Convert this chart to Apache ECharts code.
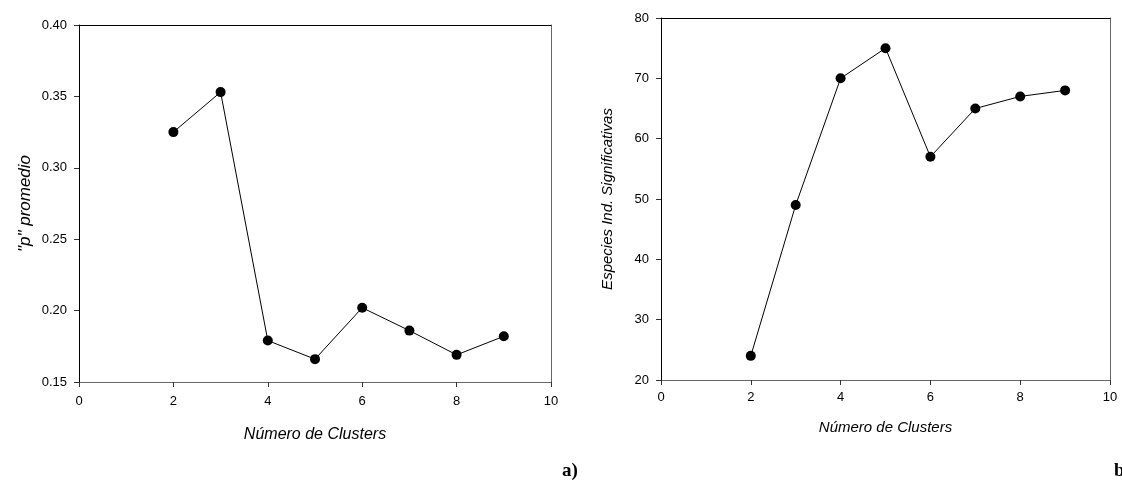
<!DOCTYPE html>
<html>
<head>
<meta charset="utf-8">
<script src="https://cdn.jsdelivr.net/npm/echarts@6/dist/echarts.min.js"></script>
<style>
  html, body { margin: 0; padding: 0; background: #fff; }
  #chart { width: 1122px; height: 484px; }
</style>
</head>
<body>
<div id="chart"></div>
<script>
// cluster counts shared by both panels
const clusters = [2, 3, 4, 5, 6, 7, 8, 9];
// panel a: mean p value
const pMean = [0.325, 0.353, 0.179, 0.166, 0.202, 0.186, 0.169, 0.182];
// panel b: significant indicator species
const especies = [24, 49, 70, 75, 57, 65, 67, 68];

const font = 'Liberation Sans, Arial, sans-serif';
const chart = echarts.init(document.getElementById('chart'));

let pairs = (xs, ys) => xs.map((x, i) => [x, ys[i]]);

let mainX = (gridIndex, labelMargin, nameGap, nameSize) => ({
    type: 'value', gridIndex: gridIndex, min: 0, max: 10, interval: 2,
    position: 'bottom',
    name: 'Número de Clusters', nameLocation: 'middle',
    nameGap: nameGap,
    nameTextStyle: { fontFamily: font, fontSize: nameSize, fontStyle: 'italic', color: '#000' },
    axisLine: { onZero: false, lineStyle: { color: '#666', width: 1 } },
    axisTick: { inside: false, length: 5, lineStyle: { color: '#333' } },
    axisLabel: { fontFamily: font, fontSize: 13, color: '#000', margin: labelMargin },
    splitLine: { show: false }
});

let frameX = (gridIndex) => ({
    type: 'value', gridIndex: gridIndex, min: 0, max: 10, position: 'top',
    axisLine: { show: true, onZero: false, lineStyle: { color: '#000', width: 1 } },
    axisTick: { show: false }, axisLabel: { show: false }, splitLine: { show: false }
});

let mainY = (gridIndex, min, max, interval, name, fmt, gap, nameSize) => ({
    type: 'value', gridIndex: gridIndex, min: min, max: max, interval: interval,
    position: 'left',
    name: name, nameLocation: 'middle', nameGap: gap,
    nameTextStyle: { fontFamily: font, fontSize: nameSize, fontStyle: 'italic', color: '#000' },
    axisLine: { show: true, onZero: false, lineStyle: { color: '#000', width: 1 } },
    axisTick: { show: true, inside: false, length: 5, lineStyle: { color: '#333' } },
    axisLabel: { fontFamily: font, fontSize: 13, color: '#000', margin: 12, formatter: fmt },
    splitLine: { show: false }
});

let frameY = (gridIndex, min, max) => ({
    type: 'value', gridIndex: gridIndex, min: min, max: max, position: 'right',
    axisLine: { show: true, onZero: false, lineStyle: { color: '#666', width: 1 } },
    axisTick: { show: false }, axisLabel: { show: false }, splitLine: { show: false }
});

let series = (idx, data) => ({
    type: 'line', xAxisIndex: idx * 2, yAxisIndex: idx * 2,
    data: data, symbol: 'circle', symbolSize: 10,
    lineStyle: { color: '#000', width: 1 },
    itemStyle: { color: '#000' },
    animation: false
});

let option = {
    backgroundColor: '#fff',
    animation: false,
    grid: [
        { left: 79, top: 25, width: 472, height: 357 },
        { left: 661, top: 18, width: 449, height: 362 }
    ],
    xAxis: [mainX(0, 13, 45, 16), frameX(0), mainX(1, 11, 40, 15), frameX(1)],
    yAxis: [
        mainY(0, 0.15, 0.40, 0.05, '"p" promedio', v => v.toFixed(2), 45, 17),
        frameY(0, 0.15, 0.40),
        mainY(1, 20, 80, 10, 'Especies Ind. Significativas', v => v, 46, 15),
        frameY(1, 20, 80)
    ],
    series: [
        series(0, pairs(clusters, pMean)),
        series(1, pairs(clusters, especies))
    ],
    graphic: [
        { type: 'text', left: 562, top: 462, style: { text: 'a)', font: 'bold 19px Liberation Serif, Times New Roman, serif', fill: '#000' } },
        { type: 'text', left: 1114, top: 462, style: { text: 'b', font: 'bold 19px Liberation Serif, Times New Roman, serif', fill: '#000' } }
    ]
};

chart.setOption(option);
</script>
</body>
</html>
